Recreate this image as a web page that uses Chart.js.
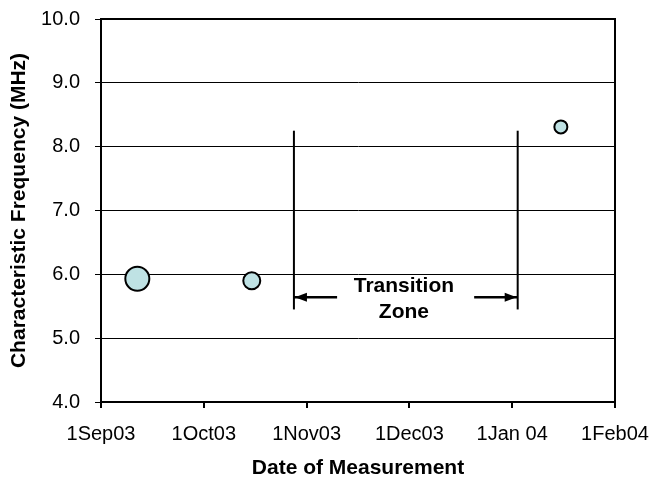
<!DOCTYPE html>
<html>
<head>
<meta charset="utf-8">
<script src="https://cdn.jsdelivr.net/npm/chart.js@4/dist/chart.umd.min.js"></script>
<style>
  html, body { margin: 0; padding: 0; background: #fff; }
  #wrap { width: 654px; height: 479px; }
</style>
</head>
<body>
<div id="wrap"><canvas id="chart" width="654" height="479"></canvas></div>
<script>
// ── Data ─────────────────────────────────────────────────
// x values are days since 1 Sep 03, one tick every 30 days
const dateLabels   = ['1Sep03', '1Oct03', '1Nov03', '1Dec03', '1Jan 04', '1Feb04'];
const measureDays  = [10.6, 44.0, 134.2];
const frequencyMHz = [5.93, 5.90, 8.31];

// transition zone markers
const zoneDays     = [56.3, 121.6];
const zoneRange    = [5.45, 8.25];
const arrowLevel   = 5.64;
const arrowTails   = [68.9, 108.9];
const zoneText     = ['Transition', 'Zone'];
const zoneTextAt   = [88.4, 5.81, 5.41];

// marker radius per measurement (style)
const markerRadius = [12, 8.5, 6.5];

const FONT = "'Liberation Sans', Arial, sans-serif";

// let the layout padding alone decide the plot box
const noScalePad = s => { s.paddingTop = s.paddingBottom = s.paddingLeft = s.paddingRight = 0; };

const frame = {
  id: 'frame',
  afterDatasetsDraw(chart) {
    const { ctx, chartArea: a, scales: { x, y } } = chart;
    ctx.save();
    // plot border
    ctx.strokeStyle = '#000';
    ctx.lineWidth = 2;
    ctx.strokeRect(a.left, a.top, a.right - a.left, a.bottom - a.top);

    // arrowheads at the zone lines
    ctx.fillStyle = '#000';
    const ay = y.getPixelForValue(arrowLevel);
    const heads = [[zoneDays[0], 1], [zoneDays[1], -1]];
    for (const [d, dir] of heads) {
      const px = x.getPixelForValue(d);
      ctx.beginPath();
      ctx.moveTo(px + dir, ay);
      ctx.lineTo(px + dir * 13, ay - 4.5);
      ctx.lineTo(px + dir * 13, ay + 4.5);
      ctx.closePath();
      ctx.fill();
    }

    // zone label
    ctx.font = 'bold 21px ' + FONT;
    ctx.textAlign = 'center';
    ctx.textBaseline = 'middle';
    const tx = x.getPixelForValue(zoneTextAt[0]);
    ctx.fillText(zoneText[0], tx, y.getPixelForValue(zoneTextAt[1]));
    ctx.fillText(zoneText[1], tx, y.getPixelForValue(zoneTextAt[2]));
    ctx.restore();
  }
};

const lineSet = (data, width) => ({
  type: 'line',
  data,
  borderColor: '#000',
  borderWidth: width,
  pointRadius: 0,
  fill: false,
  order: 2,
});

new Chart(document.getElementById('chart'), {
  type: 'scatter',
  data: {
    datasets: [
      {
        data: measureDays.map((d, i) => ({ x: d, y: frequencyMHz[i] })),
        backgroundColor: '#bfe2e4',
        borderColor: '#000',
        borderWidth: 2,
        pointRadius: markerRadius,
        pointHoverRadius: markerRadius,
        order: 1,
      },
      lineSet([{ x: zoneDays[0], y: zoneRange[0] }, { x: zoneDays[0], y: zoneRange[1] }], 2),
      lineSet([{ x: zoneDays[1], y: zoneRange[0] }, { x: zoneDays[1], y: zoneRange[1] }], 2),
      lineSet([{ x: zoneDays[0], y: arrowLevel }, { x: arrowTails[0], y: arrowLevel }], 2.5),
      lineSet([{ x: arrowTails[1], y: arrowLevel }, { x: zoneDays[1], y: arrowLevel }], 2.5),
    ],
  },
  options: {
    responsive: false,
    animation: false,
    events: [],
    layout: { padding: { left: 0, right: 39, top: 19, bottom: 0 } },
    plugins: {
      legend: { display: false },
      tooltip: { enabled: false },
    },
    scales: {
      x: {
        type: 'linear',
        min: 0,
        max: 150,
        afterFit: s => { s.height = 77; noScalePad(s); },
        afterBuildTicks: s => { s.ticks = dateLabels.map((_, i) => ({ value: i * 30 })); },
        grid: { drawOnChartArea: false, color: '#000', tickLength: 6, lineWidth: 2 },
        border: { color: '#000', width: 2 },
        ticks: {
          color: '#000',
          font: { family: FONT, size: 20 },
          padding: 14,
          maxRotation: 0,
          autoSkip: false,
          callback: (v) => dateLabels[Math.round(v / 30)],
        },
        title: {
          display: true,
          text: 'Date of Measurement',
          color: '#000',
          font: { family: FONT, size: 21, weight: 'bold', lineHeight: 1 },
          padding: { top: 0, bottom: 0 },
        },
      },
      y: {
        min: 4,
        max: 10,
        afterFit: s => { s.width = 101; noScalePad(s); },
        grid: { color: '#000', tickLength: 6, lineWidth: 1 },
        border: { color: '#000', width: 2 },
        ticks: {
          stepSize: 1,
          color: '#000',
          font: { family: FONT, size: 20 },
          padding: 15,
          callback: v => v.toFixed(1),
        },
        title: {
          display: true,
          text: 'Characteristic Frequency (MHz)',
          color: '#000',
          font: { family: FONT, size: 21, weight: 'bold', lineHeight: 1 },
          padding: { top: 9, bottom: 0 },
        },
      },
    },
  },
  plugins: [frame],
});
</script>
</body>
</html>
